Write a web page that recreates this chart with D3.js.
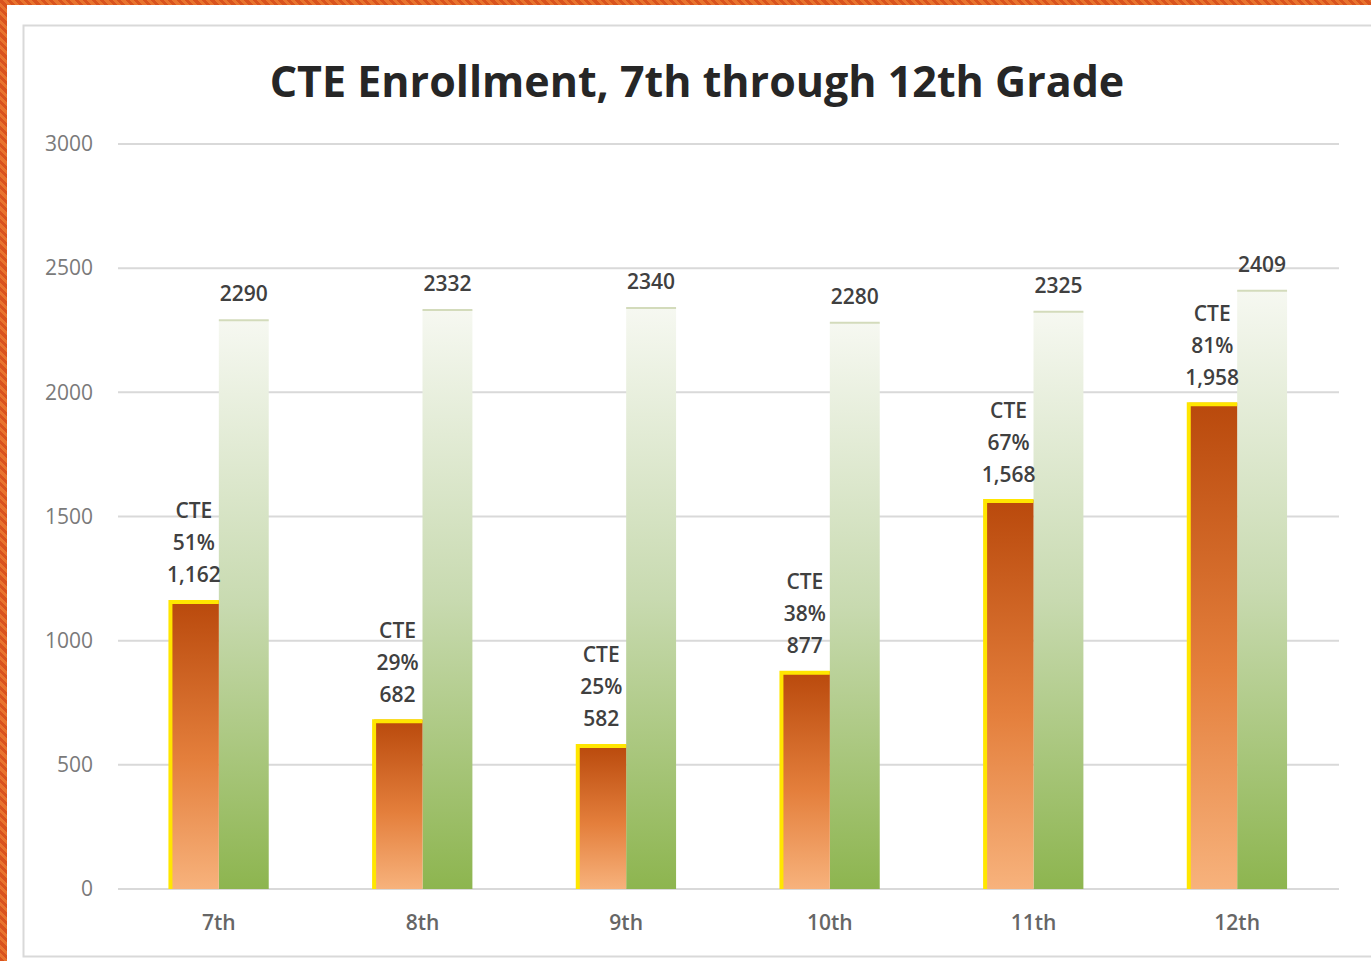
<!DOCTYPE html>
<html>
<head>
<meta charset="utf-8">
<script src="https://cdn.jsdelivr.net/npm/d3@7"></script>
<style>
  html, body { margin: 0; padding: 0; }
  body {
    width: 1371px; height: 961px; overflow: hidden;
    background: repeating-linear-gradient(45deg, #d9531e 0 3px, #e8732e 3px 6px);
  }
  #wrap { position: absolute; left: 7px; top: 5px; width: 1364px; height: 956px; background: #fff; }
  text { font-family: "Open Sans", "Noto Sans", sans-serif; }
</style>
</head>
<body>
<div id="wrap"><div id="chart"></div></div>
<script>
const grades = ["7th", "8th", "9th", "10th", "11th", "12th"];
const cteCounts = [1162, 682, 582, 877, 1568, 1958];
const ctePct = ["51%", "29%", "25%", "38%", "67%", "81%"];
const totals = [2290, 2332, 2340, 2280, 2325, 2409];
const yTicks = [0, 500, 1000, 1500, 2000, 2500, 3000];

const data = grades.map((g, i) => ({ grade: g, cte: cteCounts[i], pct: ctePct[i], total: totals[i] }));

const W = 1364, H = 956;
const margin = { top: 139, right: 32, bottom: 72, left: 110 };
const width = W - margin.left - margin.right,
      height = H - margin.top - margin.bottom;

const svg = d3.select("#chart").append("svg")
  .attr("width", W).attr("height", H);

// frame
svg.append("rect")
  .attr("x", 16.5).attr("y", 20.5).attr("width", W).attr("height", 931)
  .attr("fill", "#fff").attr("stroke", "#d9d9d9").attr("stroke-width", 2);

const defs = svg.append("defs");
const og = defs.append("linearGradient").attr("id", "gOrange").attr("x1", 0).attr("y1", 0).attr("x2", 0).attr("y2", 1);
og.append("stop").attr("offset", "0%").attr("stop-color", "#b9490c");
og.append("stop").attr("offset", "55%").attr("stop-color", "#e47f3c");
og.append("stop").attr("offset", "100%").attr("stop-color", "#f7b27c");
const gg = defs.append("linearGradient").attr("id", "gGreen").attr("x1", 0).attr("y1", 0).attr("x2", 0).attr("y2", 1);
gg.append("stop").attr("offset", "0%").attr("stop-color", "#f6f8f1");
gg.append("stop").attr("offset", "50%").attr("stop-color", "#c8dab0");
gg.append("stop").attr("offset", "100%").attr("stop-color", "#8db54f");

svg.append("text")
  .attr("x", 690).attr("y", 92)
  .attr("text-anchor", "middle")
  .attr("font-size", 43).attr("font-weight", 700)
  .attr("fill", "#262626")
  .text("CTE Enrollment, 7th through 12th Grade");

const g = svg.append("g").attr("transform", `translate(${margin.left},${margin.top})`);

const x0 = d3.scaleBand().domain(grades).range([0, width]).paddingInner(0.51).paddingOuter(0.255);
const x1 = d3.scaleBand().domain(["cte", "total"]).range([0, x0.bandwidth()]);
const y = d3.scaleLinear().domain([0, 3000]).range([height, 0]);

// gridlines + y labels
g.selectAll(".grid").data(yTicks).join("line")
  .attr("x1", 1).attr("x2", width)
  .attr("y1", d => y(d)).attr("y2", d => y(d))
  .attr("stroke", "#d9d9d9").attr("stroke-width", 2);

g.append("g")
  .call(d3.axisLeft(y).tickValues(yTicks).tickFormat(d3.format("d")).tickSize(0).tickPadding(24))
  .call(s => s.select(".domain").remove())
  .call(s => s.selectAll("text").attr("font-size", 21).attr("fill", "#7a7a7a").attr("font-family", "'Open Sans', sans-serif"));

g.append("g")
  .attr("transform", `translate(0,${height})`)
  .call(d3.axisBottom(x0).tickSize(0).tickPadding(26))
  .call(s => s.select(".domain").remove())
  .call(s => s.selectAll("text").attr("font-size", 21).attr("font-weight", 600).attr("fill", "#666").attr("font-family", "'Open Sans', sans-serif"));

const grp = g.selectAll(".grp").data(data).join("g")
  .attr("transform", d => `translate(${x0(d.grade)},0)`);

// total bars
grp.append("rect")
  .attr("x", x1("total")).attr("width", x1.bandwidth())
  .attr("y", d => y(d.total)).attr("height", d => height - y(d.total))
  .attr("fill", "url(#gGreen)");
grp.append("line")
  .attr("x1", x1("total")).attr("x2", x1("total") + x1.bandwidth())
  .attr("y1", d => y(d.total)).attr("y2", d => y(d.total))
  .attr("stroke", "#d3dbbb").attr("stroke-width", 2);

// cte bars
grp.append("rect")
  .attr("x", x1("cte") + 1.5).attr("width", x1.bandwidth() - 1.5)
  .attr("y", d => y(d.cte)).attr("height", d => height - y(d.cte))
  .attr("fill", "url(#gOrange)");
grp.append("path")
  .attr("d", d => `M${x1("cte") + 1.5},${height}V${y(d.cte) + 1.5}H${x1("cte") + x1.bandwidth()}`)
  .attr("fill", "none").attr("stroke", "#ffe600").attr("stroke-width", 4);

// labels
grp.append("text")
  .attr("x", x1("total") + x1.bandwidth() / 2)
  .attr("y", d => y(d.total) - 19)
  .attr("text-anchor", "middle")
  .attr("font-size", 21).attr("font-weight", 600).attr("fill", "#404040")
  .text(d => d.total);

const lbl = grp.append("text")
  .attr("text-anchor", "middle")
  .attr("font-size", 21).attr("font-weight", 600).attr("fill", "#404040");
lbl.each(function(d) {
  const t = d3.select(this);
  const cx = x1("cte") + x1.bandwidth() / 2;
  const base = y(d.cte) - 18;
  ["CTE", d.pct, d3.format(",")(d.cte)].forEach((s, i) => {
    t.append("tspan").attr("x", cx).attr("y", base - (2 - i) * 32).text(s);
  });
});
</script>
</body>
</html>
